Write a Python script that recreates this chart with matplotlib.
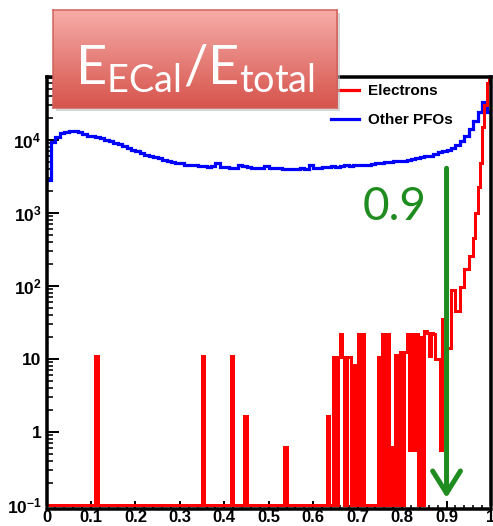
import numpy as np
import matplotlib
matplotlib.use("Agg")
import matplotlib.pyplot as plt
from matplotlib.lines import Line2D
from matplotlib.patches import Rectangle
from matplotlib.transforms import Bbox, TransformedBbox
from matplotlib.ticker import FixedLocator, FixedFormatter, LogLocator, NullFormatter

# ---------------- data ----------------
pfo_edges = np.linspace(0.0, 1.0, 101)        # 100 bins
electron_edges = np.linspace(0.0, 1.0, 201)   # 200 bins

other_pfos = [
    2800, 9500, 11000, 12500, 13000, 13500, 13500, 13000, 12000, 11500,
    11500, 11000, 10500, 10000, 9700, 9200, 8800, 8200, 7800, 7300,
    7000, 6600, 6300, 6000, 5800, 5600, 5400, 5200, 5000, 4900,
    4800, 4600, 4600, 4500, 4400, 4400, 4300, 4400, 4800, 4300,
    4300, 4200, 4200, 4500, 4400, 4300, 4100, 4100, 4200, 4400,
    4200, 4200, 4100, 4000, 4000, 4050, 4000, 4100, 4000, 4600,
    4200, 4200, 4300, 4300, 4400, 4300, 4400, 4500, 4400, 4500,
    4600, 4500, 4600, 4700, 4800, 4900, 5000, 5000, 5100, 5200,
    5200, 5300, 5500, 5600, 5800, 6000, 6100, 6400, 6800, 7100,
    7400, 7800, 8500, 9800, 11500, 14000, 18000, 24000, 33000, 24000,
]

electrons = [
    0, 0, 0, 0, 0, 0, 0, 0, 0, 0,                  # 0-9
    0, 0, 0, 0, 0, 0, 0, 0, 0, 0,                  # 10-19
    0, 0, 11, 0, 0, 0, 0, 0, 0, 0,                 # 20-29
    0, 0, 0, 0, 0, 0, 0, 0, 0, 0,                  # 30-39
    0, 0, 0, 0, 0, 0, 0, 0, 0, 0,                  # 40-49
    0, 0, 0, 0, 0, 0, 0, 0, 0, 0,                  # 50-59
    0, 0, 0, 0, 0, 0, 0, 0, 0, 0,                  # 60-69
    11, 0, 0, 0, 0, 0, 0, 0, 0, 0,                 # 70-79
    0, 0, 0, 11, 0, 0, 0, 0, 0, 1.65,              # 80-89
    0, 0, 0, 0, 0, 0, 0, 0, 0, 0,                  # 90-99
    0, 0, 0, 0, 0, 0, 0, 0.62, 0, 0,               # 100-109
    0, 0, 0, 0, 0, 0, 0, 0, 0, 0,                  # 110-119
    0, 0, 0, 0, 0, 0, 1.65, 0, 0, 10.7,            # 120-129
    0, 10.7, 21.7, 10.7, 0, 10.7, 10.7, 0, 8.2, 0,  # 130-139
    21.7, 0, 21.7, 0, 0, 0, 0, 0, 0, 10.7,         # 140-149
    0, 21.7, 0, 21.7, 0, 0.62, 0, 11.3, 0, 12.6,   # 150-159
    0, 12.6, 21.7, 0.56, 21.7, 0.56, 21.7, 0, 20, 0,  # 160-169
    24, 23, 11, 23, 22, 10, 10, 0.56, 35, 35,      # 170-179
    14, 14, 87, 87, 46, 46, 98, 98, 170, 170,      # 180-189
    260, 260, 450, 1000, 2300, 4900, 15000, 30000, 60000, 150000,  # 190-199
]

series_labels = ["Electrons", "Other PFOs"]
x_ticks = [0.0, 0.1, 0.2, 0.3, 0.4, 0.5, 0.6, 0.7, 0.8, 0.9, 1.0]
x_tick_labels = ["0", "0.1", "0.2", "0.3", "0.4", "0.5", "0.6", "0.7", "0.8", "0.9", "1"]
y_ticks = [0.1, 1, 10, 100, 1000, 10000]
y_tick_labels = [r"$\mathregular{10^{-1}}$", "1", "10",
                 r"$\mathregular{10^{2}}$", r"$\mathregular{10^{3}}$", r"$\mathregular{10^{4}}$"]
y_range = (0.1, 7.3e4)
cut_value = 0.9
cut_label = "0.9"
title_text = r"$\mathregular{E_{ECal}/E_{total}}$"

# ---------------- figure ----------------
W, H, DPI = 493, 526, 100
fig = plt.figure(figsize=(W / DPI, H / DPI), dpi=DPI)
fig.patch.set_facecolor("white")

def px(v):  # pixels -> points
    return v * 72.0 / DPI

ax = fig.add_axes([46.5 / W, (H - 505) / H, (491 - 46.5) / W, (505 - 77) / H])
ax.set_yscale("log")
ax.set_xlim(0, 1)
ax.set_ylim(*y_range)

ymin = y_range[0]
ele_draw = np.where(np.array(electrons) > 0, electrons, ymin)
ax.stairs(other_pfos, pfo_edges, baseline=None, color="#0000ff",
          linewidth=px(3.2), zorder=2)
red = ax.stairs(ele_draw, electron_edges, baseline=None, color="#ff0000",
                linewidth=px(3.0), zorder=3)
red.set_clip_box(TransformedBbox(Bbox([[0, -0.02], [1, 1]]), ax.transAxes))

# spines
for s in ax.spines.values():
    s.set_linewidth(px(3.5))
    s.set_color("black")
    s.set_zorder(4)
ax.spines["bottom"].set_position(("outward", px(4)))

ax.xaxis.set_major_locator(FixedLocator(x_ticks))
ax.xaxis.set_major_formatter(FixedFormatter(x_tick_labels))
ax.xaxis.set_minor_locator(FixedLocator(np.arange(0, 1.0001, 0.02)))
ax.yaxis.set_major_locator(FixedLocator(y_ticks))
ax.yaxis.set_major_formatter(FixedFormatter(y_tick_labels))
ax.yaxis.set_minor_locator(LogLocator(base=10, subs=np.arange(2, 10), numticks=20))
ax.yaxis.set_minor_formatter(NullFormatter())

ax.tick_params(axis="x", which="major", direction="in", length=px(8), width=px(2),
               pad=px(1), labelsize=12, top=False)
ax.tick_params(axis="x", which="minor", direction="in", length=px(4), width=px(1.6), top=False)
ax.tick_params(axis="y", which="major", direction="in", length=px(12), width=px(2),
               pad=px(5), labelsize=12.5, right=False)
ax.tick_params(axis="y", which="minor", direction="in", length=px(6), width=px(1.6), right=False)
for lab in ax.get_xticklabels() + ax.get_yticklabels():
    lab.set_fontfamily("Liberation Sans")
    lab.set_fontweight("bold")

# legend
handles = [Line2D([], [], color="#ff0000", lw=px(3.2)),
           Line2D([], [], color="#0000ff", lw=px(3.2))]
leg = ax.legend(handles, series_labels, loc="upper left",
                bbox_to_anchor=(331 / W, 1 - 84 / H), bbox_transform=fig.transFigure,
                frameon=False, prop=dict(family="Liberation Sans", weight="bold", size=11),
                handlelength=1.85, handletextpad=0.55, labelspacing=1.0,
                borderpad=0, borderaxespad=0)
leg.set_zorder(5)

# cut arrow and label
green = "#1e8c1e"
ax.annotate("", xy=(cut_value, 0.125), xytext=(cut_value, 4100),
            arrowprops=dict(arrowstyle="->,head_length=0.8,head_width=0.5",
                            lw=px(5), color=green, mutation_scale=20,
                            shrinkA=0, shrinkB=0),
            annotation_clip=False, zorder=6)
ax.text(0.784, 1200, cut_label, color=green, fontsize=33, family="Lato",
        ha="center", va="center", zorder=6)

# title box with gradient
bx0, bx1, by0, by1 = 53, 337, 10, 108
shadow = fig.add_axes([(bx0 + 3) / W, (H - by1 - 3) / H, (bx1 - bx0) / W, (by1 - by0) / H])
shadow.axis("off")
shadow.add_patch(Rectangle((0, 0), 1, 1, transform=shadow.transAxes,
                           facecolor="#bbbbbb", edgecolor="none", alpha=0.6))
box = fig.add_axes([bx0 / W, (H - by1) / H, (bx1 - bx0) / W, (by1 - by0) / H])
top_c = np.array([247, 172, 168]) / 255.0
bot_c = np.array([214, 84, 76]) / 255.0
t = np.linspace(0, 1, 100)[:, None, None]
grad = top_c[None, None, :] * (1 - t) + bot_c[None, None, :] * t
box.imshow(grad, aspect="auto", extent=(0, 1, 0, 1), interpolation="bilinear")
box.set_xlim(0, 1)
box.set_ylim(0, 1)
box.set_xticks([])
box.set_yticks([])
for s in box.spines.values():
    s.set_color("#d0605a")
    s.set_linewidth(px(1.5))
box.text(0.5, 0.40, title_text, transform=box.transAxes, color="white",
         fontsize=39, family="Lato", ha="center", va="center")

fig.savefig("out.png", dpi=DPI)
